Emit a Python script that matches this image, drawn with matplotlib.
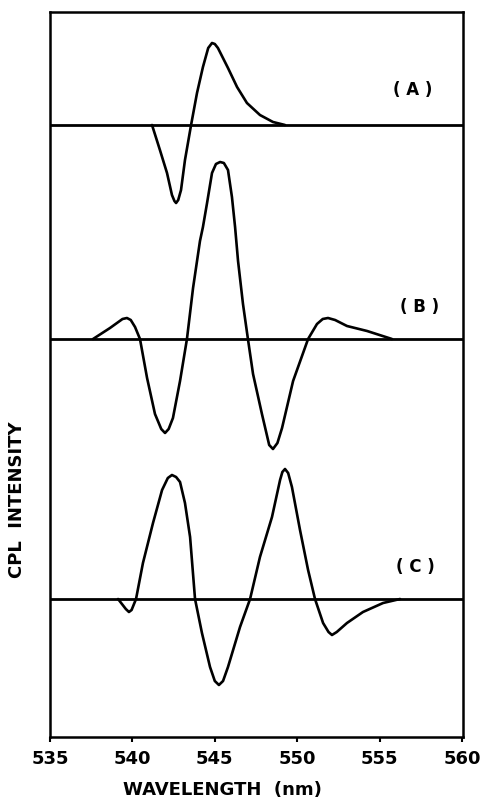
import numpy as np
import matplotlib.pyplot as plt

# CPL spectra (wavelength in nm, intensity in arbitrary units)
wl_a = [541.19, 541.67, 542.10, 542.40, 542.55, 542.65, 542.78, 542.95, 543.19,
        543.56, 543.92, 544.28, 544.60, 544.83, 545.00, 545.19, 545.80, 546.35,
        546.95, 547.74, 548.53, 549.26]
cpl_a = [0, -25, -48, -70, -76, -78, -75, -65, -35, 0, 32, 58, 77, 82, 81, 77,
         57, 38, 22, 10, 3, 0]

wl_b = [537.61, 538.64, 539.40, 539.67, 539.90, 540.16, 540.46, 540.89, 541.37,
        541.75, 541.98, 542.20, 542.46, 542.89, 543.31, 543.68, 544.10, 544.28,
        544.53, 544.83, 545.07, 545.32, 545.55, 545.80, 546.04, 546.23, 546.41,
        546.71, 547.01, 547.32, 547.86, 548.30, 548.53, 548.80, 549.08, 549.75,
        550.66, 551.20, 551.55, 551.87, 552.30, 553.02, 554.24, 555.75]
cpl_b = [0, 11, 20, 21, 19, 12, 0, -39, -75, -90, -94, -90, -79, -42, 0, 51,
         98, 112, 136, 166, 175, 177, 176, 169, 142, 112, 78, 35, 0, -35, -75,
         -106, -110, -104, -89, -42, 0, 15, 20, 21, 19, 13, 8, 0]

wl_c = [539.13, 539.60, 539.79, 539.95, 540.22, 540.64, 541.25, 541.80, 542.15,
        542.40, 542.65, 542.89, 543.19, 543.50, 543.80, 544.22, 544.71, 545.00,
        545.25, 545.50, 545.80, 546.53, 547.14, 547.74, 548.47, 548.96, 549.10,
        549.26, 549.45, 549.68, 550.17, 550.66, 551.08, 551.57, 551.90, 552.11,
        552.40, 553.02, 553.99, 555.21, 556.24]
cpl_c = [0, -10, -13, -11, 0, 36, 76, 109, 121, 124, 122, 117, 96, 62, 0, -34,
         -68, -82, -86, -82, -68, -28, 0, 42, 82, 119, 127, 130, 126, 112, 69,
         29, 0, -24, -33, -36, -33, -24, -13, -4, 0]

panel_labels = ['( A )', '( B )', '( C )']
xticks = [535, 540, 545, 550, 555, 560]

# vertical offsets of the three traces
offsets = [612, 398, 138]

fig = plt.figure(figsize=(4.83, 8.01), dpi=100)
ax = fig.add_axes([50/483, 64/801, 413/483, 725/801])

for wl, cpl, off in zip([wl_a, wl_b, wl_c], [cpl_a, cpl_b, cpl_c], offsets):
    ax.axhline(off, color='black', lw=2.0)
    ax.plot(wl, np.array(cpl) + off, color='black', lw=1.9,
            solid_joinstyle='round', solid_capstyle='round')

ax.text(557.03, offsets[0] + 35, panel_labels[0], ha='center', va='center',
        fontsize=12, fontweight='bold')
ax.text(557.45, offsets[1] + 32, panel_labels[1], ha='center', va='center',
        fontsize=12, fontweight='bold')
ax.text(557.15, offsets[2] + 32, panel_labels[2], ha='center', va='center',
        fontsize=12, fontweight='bold')

ax.set_xlim(535, 560.06)
ax.set_ylim(0, 725)
ax.set_xticks(xticks)
ax.set_xticklabels([str(t) for t in xticks], fontsize=13, fontweight='bold')
ax.set_yticks([])
ax.tick_params(axis='x', direction='out', length=3.5, width=1.5, pad=6)
for s in ax.spines.values():
    s.set_linewidth(1.8)

fig.text(222/483, 1 - 790/801, 'WAVELENGTH  (nm)', ha='center', va='center',
         fontsize=13, fontweight='bold')
fig.text(17/483, 1 - 500/801, 'CPL  INTENSITY', ha='center', va='center',
         rotation=90, fontsize=13, fontweight='bold')

fig.savefig('out.png', dpi=100)
